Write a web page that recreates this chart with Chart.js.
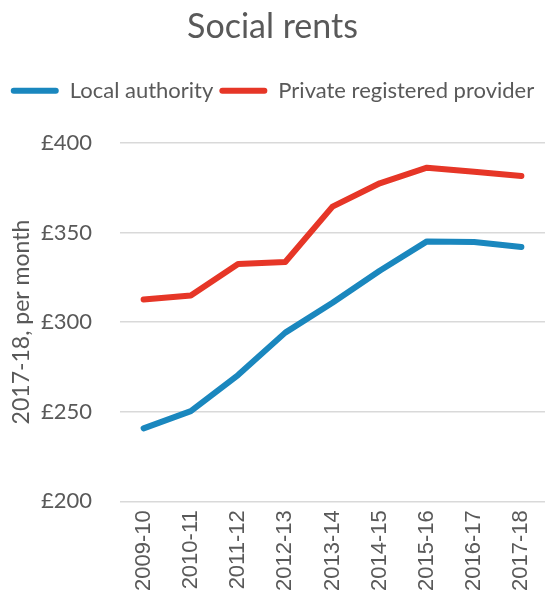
<!DOCTYPE html>
<html>
<head>
<meta charset="utf-8">
<script src="https://cdn.jsdelivr.net/npm/chart.js@4/dist/chart.umd.min.js"></script>
<style>
  body { margin: 0; background: #fff; }
  canvas { display: block; }
</style>
</head>
<body>
<canvas id="rentChart" width="545" height="600"></canvas>
<script>
const years = ["2009-10", "2010-11", "2011-12", "2012-13", "2013-14", "2014-15", "2015-16", "2016-17", "2017-18"];
const localAuthority = [240.7, 250.3, 270.4, 294.1, 310.8, 328.6, 345.0, 344.7, 341.9];
const privateProvider = [312.6, 314.8, 332.4, 333.5, 364.4, 377.4, 386.1, 383.9, 381.5];
const yTicks = [200, 250, 300, 350, 400];

const grey = "#595959";
const ctx = document.getElementById("rentChart").getContext("2d");

// extra room between legend and plot
const legendGap = {
  id: "legendGap",
  beforeInit(chart) {
    const fit = chart.legend.fit;
    chart.legend.fit = function () {
      fit.bind(chart.legend)();
      this.height += 31;
    };
  }
};

new Chart(ctx, {
  type: "line",
  data: {
    labels: years,
    datasets: [
      {
        label: "Local authority",
        data: localAuthority,
        borderColor: "#1a87be",
        backgroundColor: "#1a87be",
        borderWidth: 6,
        pointRadius: 0,
        borderCapStyle: "round",
        borderJoinStyle: "round",
        tension: 0
      },
      {
        label: "Private registered provider",
        data: privateProvider,
        borderColor: "#e63627",
        backgroundColor: "#e63627",
        borderWidth: 6,
        pointRadius: 0,
        borderCapStyle: "round",
        borderJoinStyle: "round",
        tension: 0
      }
    ]
  },
  options: {
    responsive: false,
    animation: false,
    layout: { padding: { left: 0, right: 0, top: 0, bottom: 0 } },
    plugins: {
      title: {
        display: true,
        text: "Social rents",
        color: grey,
        font: { family: "Lato", size: 34, weight: "normal" },
        padding: { top: 7, bottom: 26 }
      },
      legend: {
        position: "top",
        labels: {
          color: grey,
          font: { family: "Lato", size: 22 },
          boxWidth: 48,
          boxHeight: 6,
          padding: 6,
          useBorderRadius: true,
          borderRadius: 3,
          generateLabels: (chart) => chart.data.datasets.map((ds, i) => ({
            text: ds.label,
            fillStyle: ds.borderColor,
            strokeStyle: ds.borderColor,
            lineWidth: 0,
            fontColor: grey,
            datasetIndex: i,
            borderRadius: 3
          }))
        }
      },
      tooltip: { enabled: false }
    },
    scales: {
      x: {
        offset: true,
        grid: { display: false, drawTicks: false },
        border: { display: false },
        afterFit: (axis) => { axis.paddingLeft = 0; axis.paddingRight = 0; },
        ticks: {
          color: grey,
          minRotation: 90,
          maxRotation: 90,
          padding: 9,
          font: { family: "Liberation Sans", size: 22 }
        }
      },
      y: {
        min: 200,
        max: 400,
        afterBuildTicks: (axis) => { axis.ticks = yTicks.map(v => ({ value: v })); },
        afterFit: (axis) => { axis.width = 120; },
        grid: { color: "#d9d9d9", lineWidth: 1.5, drawTicks: false },
        border: { display: false },
        ticks: {
          color: grey,
          padding: 28,
          font: { family: "Lato", size: 22 },
          callback: (v) => "£" + v
        },
        title: {
          display: true,
          text: "2017-18, per month",
          color: grey,
          font: { family: "Lato", size: 23 },
          padding: { top: 8, bottom: 7 }
        }
      }
    }
  },
  plugins: [legendGap]
});
</script>
</body>
</html>
